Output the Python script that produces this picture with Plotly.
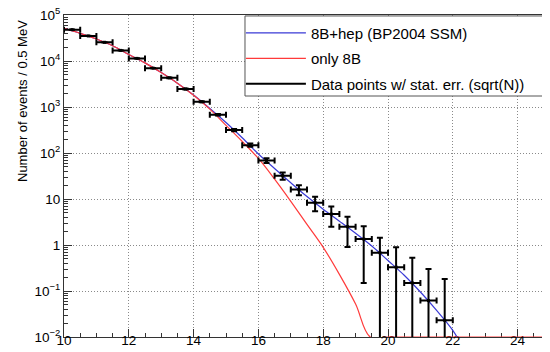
import plotly.graph_objects as go

# ---- data ----
bin_centers = [10.25, 10.75, 11.25, 11.75, 12.25, 12.75, 13.25, 13.75, 14.25, 14.75,
               15.25, 15.75, 16.25, 16.75, 17.25, 17.75, 18.25, 18.75, 19.25, 19.75,
               20.25, 20.75, 21.25, 21.75]
counts = [48000, 35000, 25500, 17000, 11400, 7000, 4300, 2460, 1300, 680,
          316, 148, 69, 32, 16, 8.3, 4.7, 2.5, 1.35, 0.68,
          0.33, 0.15, 0.062, 0.023]
count_err = [219, 187, 160, 130, 107, 84, 66, 50, 36, 26,
             18, 12, 8.3, 5.7, 4.0, 2.9, 2.2, 1.6, 1.2, 0.75,
             0.56, 0.38, 0.24, 0.16]
bin_half_width = 0.25

blue_x = [10.0, 10.5, 11.0, 11.5, 12.0, 12.5, 13.0, 13.5, 14.0, 14.5, 15.0, 15.5,
          16.0, 16.5, 17.0, 17.5, 18.0, 18.5, 19.0, 19.5, 20.0, 20.5, 21.0, 21.5,
          22.0, 22.13]
blue_y = [51000, 40000, 30000, 21400, 13800, 9100, 5600, 3300, 1820, 930, 460, 214,
          95, 46, 22.5, 11.3, 6.0, 3.3, 1.8, 0.95, 0.46, 0.22, 0.095, 0.038,
          0.014, 0.01]

red_x = [10.0, 10.5, 11.0, 11.5, 12.0, 12.5, 13.0, 13.5, 14.0, 14.5, 15.0, 15.5,
         16.0, 16.5, 17.0, 17.5, 18.0, 18.5, 19.0, 19.45, 20.0, 22.0, 25.0]
red_y = [51000, 40000, 30000, 21400, 13800, 9100, 5600, 3300, 1800, 900, 400, 178,
         76, 27, 8.9, 2.8, 0.89, 0.23, 0.052, 0.01, 0.01, 0.01, 0.01]

y_tickvals = [0.01, 0.1, 1, 10, 100, 1000, 10000, 100000]
y_ticktext = ["10<sup>\u22122</sup>", "10<sup>\u22121</sup>", "1", "10",
              "10<sup>2</sup>", "10<sup>3</sup>", "10<sup>4</sup>", "10<sup>5</sup>"]
x_tickvals = [10, 12, 14, 16, 18, 20, 22, 24]

legend_labels = ["8B+hep (BP2004 SSM)", "only 8B", "Data points w/ stat. err. (sqrt(N))"]

BLUE = "#3a3ad6"
RED = "#ff3a3a"
FONT = "Liberation Sans, Arial, sans-serif"

fig = go.Figure()

fig.add_trace(go.Scatter(x=blue_x, y=blue_y, mode="lines", line=dict(color=BLUE, width=1.2, shape="spline"),
                         name=legend_labels[0], legendgroup="a", showlegend=True))
fig.add_trace(go.Scatter(x=red_x, y=red_y, mode="lines", line=dict(color=RED, width=1.2, shape="spline"),
                         name=legend_labels[1], legendgroup="b", showlegend=True))
fig.add_trace(go.Scatter(x=bin_centers, y=counts, mode="markers",
                         marker=dict(color="black", size=3, symbol="square"),
                         error_y=dict(type="data", array=count_err, color="black", thickness=2, width=3),
                         error_x=dict(type="constant", value=bin_half_width, color="black", thickness=2, width=3),
                         showlegend=False, name=legend_labels[2]))
# legend-only entry for data
fig.add_trace(go.Scatter(x=[None], y=[None], mode="lines", line=dict(color="black", width=2),
                         name=legend_labels[2], legendgroup="c", showlegend=True))

# legend box (decoration)
fig.add_shape(type="rect", xref="paper", yref="paper", x0=0.3724, x1=1.0, y0=0.7484, y1=0.997,
              line=dict(color="#555555", width=1), fillcolor="white", layer="above")

fig.update_layout(
    width=550, height=352,
    margin=dict(l=56, r=8, t=7, b=23),
    paper_bgcolor="white", plot_bgcolor="white",
    font=dict(family=FONT, size=13, color="black"),
    showlegend=True,
    legend=dict(x=0.364, y=0.995, xanchor="left", yanchor="top",
                bgcolor="rgba(0,0,0,0)", borderwidth=0,
                font=dict(family=FONT, size=15, color="black"),
                traceorder="grouped", tracegroupgap=3, itemwidth=60),
    annotations=[dict(text="Number of events / 0.5 MeV", textangle=-90, xref="paper", yref="paper",
                      x=-0.0864, y=1.0, xanchor="center", yanchor="top", yshift=-3, showarrow=False,
                      font=dict(family=FONT, size=13, color="black"))],
)

fig.update_xaxes(range=[10, 25], tickvals=x_tickvals, ticks="inside", ticklen=8, tickcolor="#333",
                 showline=True, linecolor="#333", linewidth=1, mirror=True,
                 showgrid=True, gridcolor="#8a8a8a", griddash="1px,2px", gridwidth=1,
                 minor=dict(dtick=0.5, ticks="inside", ticklen=4, tickcolor="#333", showgrid=False),
                 zeroline=False, layer="below traces", tickfont=dict(size=13.5),
                 automargin=False, ticklabelstandoff=-9, ticklabeloverflow="allow")
fig.update_yaxes(type="log", range=[-2, 5], tickvals=y_tickvals, ticktext=y_ticktext,
                 ticks="inside", ticklen=8, tickcolor="#333",
                 showline=True, linecolor="#333", linewidth=1, mirror=True,
                 showgrid=True, gridcolor="#8a8a8a", griddash="1px,2px", gridwidth=1,
                 minor=dict(ticks="inside", ticklen=4, tickcolor="#333", showgrid=False, dtick="D1"),
                 zeroline=False, layer="below traces", tickfont=dict(size=13.5),
                 automargin=False, ticklabeloverflow="allow")

fig.write_html("out.html")
